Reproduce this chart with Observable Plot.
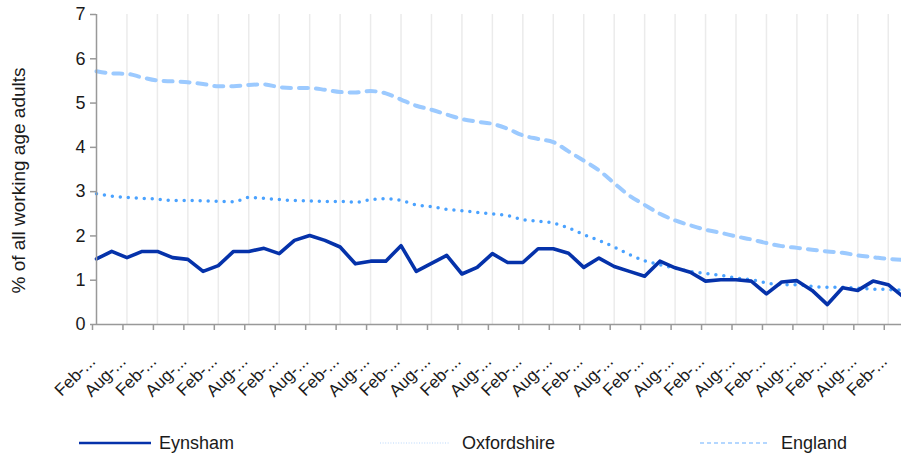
<!DOCTYPE html>
<html><head><meta charset="utf-8">
<script src="https://cdn.jsdelivr.net/npm/d3@7"></script>
<script src="https://cdn.jsdelivr.net/npm/@observablehq/plot@0.6"></script>
<style>
body{margin:0;background:#fff;font-family:"Liberation Sans",Arial,sans-serif;overflow:hidden}
#chart svg{display:block}
</style>
</head><body><div id="chart"></div>
<script>
const tickLabels = ["Feb-...","Aug-...","Feb-...","Aug-...","Feb-...","Aug-...","Feb-...","Aug-...","Feb-...","Aug-...","Feb-...","Aug-...","Feb-...","Aug-...","Feb-...","Aug-...","Feb-...","Aug-...","Feb-...","Aug-...","Feb-...","Aug-...","Feb-...","Aug-...","Feb-...","Aug-...","Feb-..."];
const yTicks = [0,1,2,3,4,5,6,7];
const seriesNames = ["Eynsham","Oxfordshire","England"];
const eynsham = [1.48,1.65,1.51,1.65,1.65,1.51,1.47,1.20,1.33,1.65,1.65,1.72,1.60,1.90,2.01,1.90,1.75,1.37,1.43,1.43,1.78,1.20,1.38,1.56,1.14,1.29,1.60,1.40,1.40,1.71,1.71,1.61,1.29,1.50,1.31,1.20,1.09,1.43,1.28,1.18,0.98,1.01,1.01,0.98,0.69,0.96,0.99,0.77,0.45,0.83,0.77,0.98,0.90,0.62];
const oxfordshire = [2.95,2.90,2.87,2.85,2.83,2.80,2.80,2.79,2.78,2.77,2.87,2.85,2.82,2.80,2.79,2.78,2.78,2.76,2.82,2.84,2.80,2.70,2.66,2.60,2.57,2.53,2.50,2.46,2.37,2.33,2.29,2.18,2.03,1.90,1.75,1.58,1.44,1.35,1.27,1.20,1.15,1.11,1.05,1.01,0.94,0.90,0.90,0.86,0.84,0.84,0.82,0.80,0.79,0.77];
const england = [5.72,5.67,5.66,5.58,5.51,5.49,5.47,5.43,5.38,5.38,5.41,5.42,5.36,5.34,5.34,5.30,5.25,5.24,5.27,5.22,5.08,4.94,4.85,4.74,4.64,4.58,4.53,4.42,4.27,4.19,4.12,3.91,3.70,3.48,3.19,2.91,2.70,2.50,2.35,2.24,2.14,2.07,1.99,1.92,1.84,1.77,1.73,1.69,1.65,1.62,1.56,1.52,1.48,1.46];

const rows = vals => vals.map((v, i) => ({i, v}));
const tickIdx = tickLabels.map((_, k) => 2 * k);
const FONT = '"Liberation Sans", Arial, sans-serif';

const plot = Plot.plot({
  width: 901, height: 420,
  marginTop: 14, marginBottom: 96, marginLeft: 96, marginRight: -2,
  style: {fontFamily: FONT, fontSize: "18px", color: "#1a1a1a", background: "#fff", overflow: "visible"},
  x: {type: "linear", domain: [0, eynsham.length - 1]},
  y: {domain: [0, 7]},
  marks: [
    Plot.ruleX(tickIdx.slice(1), {stroke: "#ebebeb", strokeWidth: 1.5}),
    Plot.line(rows(england), {x: "i", y: "v", stroke: "#9ccaff", strokeWidth: 4, strokeDasharray: "9 8", strokeLinecap: "round", curve: "monotone-x"}),
    Plot.line(rows(oxfordshire), {x: "i", y: "v", stroke: "#4aa2ff", strokeWidth: 3.5, strokeDasharray: "0 8", strokeLinecap: "round", curve: "monotone-x"}),
    Plot.line(rows(eynsham), {x: "i", y: "v", stroke: "#0532aa", strokeWidth: 3.6, strokeLinejoin: "round"}),
    Plot.ruleY([0], {stroke: "#999", strokeWidth: 1.5}),
    Plot.ruleX([0], {stroke: "#999", strokeWidth: 1.5}),
    Plot.axisY({ticks: yTicks, tickFormat: d => String(d), tickSize: 6, tickPadding: 5, stroke: "#999", strokeWidth: 1.5, fontSize: 18, label: null}),
    Plot.axisX({ticks: tickIdx, tickFormat: i => tickLabels[i / 2], tickSize: 6, tickRotate: -45, tickPadding: 28, dx: -4, stroke: "#999", strokeWidth: 1.5, fontSize: 17, label: null}),
    Plot.text(["% of all working age adults"], {frameAnchor: "left", textAnchor: "middle", dx: -78, dy: 11, rotate: -90, fontSize: 19, fill: "#1a1a1a"})
  ]
});
document.getElementById("chart").appendChild(plot);
// enforce label font sizes
d3.select(plot).selectAll("g[aria-label='y-axis tick label']").style("font-size", "18px").selectAll("text").style("font-size", "18px");
d3.select(plot).selectAll("g[aria-label='x-axis tick label']").style("font-size", "17px").selectAll("text").style("font-size", "17px");

// legend below the plot
const legendItems = [
  {name: seriesNames[0], x1: 79, x2: 151, tx: 159, stroke: "#0532aa", w: 2.5, dash: null},
  {name: seriesNames[1], x1: 380, x2: 450, tx: 462, stroke: "#b9d8fb", w: 1.2, dash: "1 1.6"},
  {name: seriesNames[2], x1: 700, x2: 768, tx: 781, stroke: "#9ccaff", w: 1.6, dash: "4 3"}
];
const leg = d3.select("#chart").append("svg").attr("width", 901).attr("height", 36)
  .style("font-family", FONT);
const g = leg.selectAll("g").data(legendItems).join("g");
g.append("line").attr("x1", d => d.x1).attr("x2", d => d.x2).attr("y1", 23).attr("y2", 23)
  .attr("stroke", d => d.stroke).attr("stroke-width", d => d.w).attr("stroke-dasharray", d => d.dash);
g.append("text").attr("x", d => d.tx).attr("y", 23).attr("dy", "0.35em").attr("font-size", 18).attr("fill", "#1a1a1a").text(d => d.name);
</script>
</body></html>
